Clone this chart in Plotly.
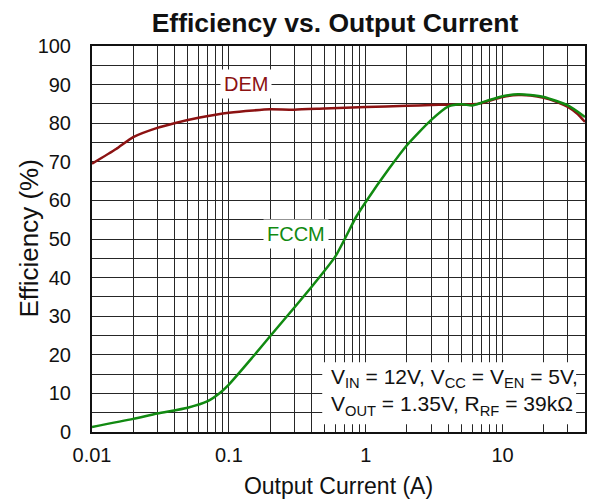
import plotly.graph_objects as go

# ---- data ----
dem_current = [0.01, 0.015, 0.02, 0.03, 0.04, 0.06, 0.08, 0.1, 0.15, 0.2, 0.3, 0.5, 1, 2, 3, 4, 5, 6, 7, 8, 10, 13, 16, 20, 25, 30, 35, 40]
dem_eff = [69.5, 73.3, 76.4, 78.8, 80.0, 81.4, 82.2, 82.7, 83.3, 83.6, 83.5, 83.8, 84.2, 84.5, 84.7, 84.8, 84.8, 84.9, 85.2, 85.8, 86.8, 87.3, 87.2, 86.6, 85.5, 84.2, 82.5, 80.3]

fccm_current = [0.01, 0.02, 0.03, 0.05, 0.07, 0.085, 0.1, 0.15, 0.2, 0.3, 0.4, 0.6, 0.85, 1, 1.5, 2, 3, 4, 5, 6, 7, 8, 10, 13, 16, 20, 30, 40]
fccm_eff = [1.3, 3.4, 4.8, 6.3, 8.0, 10.0, 12.3, 19.5, 24.8, 32.2, 37.5, 45.5, 55.7, 59.6, 68.5, 74.3, 80.8, 84.3, 84.9, 84.6, 85.3, 86.0, 87.0, 87.5, 87.3, 86.8, 84.6, 81.6]

x_tick_values = [0.01, 0.1, 1, 10]
x_tick_labels = ["0.01", "0.1", "1", "10"]
y_tick_values = [0, 10, 20, 30, 40, 50, 60, 70, 80, 90, 100]
y_tick_labels = ["0", "10", "20", "30", "40", "50", "60", "70", "80", "90", "100"]

title_text = "Efficiency vs. Output Current"
x_title = "Output Current (A)"
y_title = "Efficiency (%)"
conditions = ("V<sub>IN</sub> = 12V, V<sub>CC</sub> = V<sub>EN</sub> = 5V,<br>"
              "V<sub>OUT</sub> = 1.35V, R<sub>RF</sub> = 39kΩ")

DEM_COLOR = "#8c1212"
FCCM_COLOR = "#118a11"
FONT = "Liberation Sans, Arial, sans-serif"
GRID = "#262626"

fig = go.Figure()
fig.add_trace(go.Scatter(x=dem_current, y=dem_eff, mode="lines",
                         line=dict(color=DEM_COLOR, width=2.5, shape="spline", smoothing=0.6),
                         showlegend=False, hoverinfo="skip"))
fig.add_trace(go.Scatter(x=fccm_current, y=fccm_eff, mode="lines",
                         line=dict(color=FCCM_COLOR, width=2.5, shape="spline", smoothing=0.6),
                         showlegend=False, hoverinfo="skip"))

fig.add_annotation(x=-0.877, y=90.1, xref="x", yref="y", text="DEM", showarrow=False,
                   font=dict(family=FONT, size=20, color=DEM_COLOR), bgcolor="white", borderpad=3)
fig.add_annotation(x=-0.513, y=51.2, xref="x", yref="y", text="FCCM", showarrow=False,
                   font=dict(family=FONT, size=20, color=FCCM_COLOR), bgcolor="white", borderpad=3)

# white box behind the operating conditions
fig.add_shape(type="rect", xref="paper", yref="paper", x0=0.467, x1=0.982, y0=0.02, y1=0.181,
              fillcolor="white", line=dict(width=0), layer="above")
fig.add_annotation(x=0.481, y=0.104, xref="paper", yref="paper", xanchor="left", yanchor="middle",
                   text=conditions, showarrow=False, align="left",
                   font=dict(family=FONT, size=21, color="#111"))

# y-axis title placed as rotated text
fig.add_annotation(x=-0.1286, y=0.5, xref="paper", yref="paper", xanchor="center", yanchor="middle",
                   text=y_title, textangle=-90, showarrow=False,
                   font=dict(family=FONT, size=26, color="#111"))

fig.update_layout(
    width=594, height=503,
    margin=dict(l=92, r=7, t=46, b=71),
    paper_bgcolor="white", plot_bgcolor="white",
    font=dict(family=FONT, color="#111"),
    title=dict(text="<b>" + title_text + "</b>", x=0.564, xref="container", xanchor="center",
               y=1 - 23 / 503, yref="container", yanchor="middle",
               font=dict(family=FONT, size=26.5, color="#111")),
    xaxis=dict(type="log", range=[-2, 1.60206], tickmode="array",
               tickvals=x_tick_values, ticktext=x_tick_labels,
               showgrid=True, gridcolor=GRID, gridwidth=1, ticks="",
               minor=dict(dtick="D1", showgrid=True, gridcolor=GRID, gridwidth=1, ticks=""),
               showline=True, linecolor="#111", linewidth=2, mirror=True,
               tickfont=dict(size=20), ticklabelstandoff=4, zeroline=False,
               title=dict(text=x_title, font=dict(size=23), standoff=13)),
    yaxis=dict(range=[0, 100], tickmode="array", tickvals=y_tick_values, ticktext=y_tick_labels,
               showgrid=True, gridcolor=GRID, gridwidth=1, ticks="",
               minor=dict(dtick=5, tick0=0, showgrid=True, gridcolor=GRID, gridwidth=1, ticks=""),
               showline=True, linecolor="#111", linewidth=2, mirror=True,
               tickfont=dict(size=20), ticklabelstandoff=15, zeroline=False),
)

fig.write_html("out.html")
